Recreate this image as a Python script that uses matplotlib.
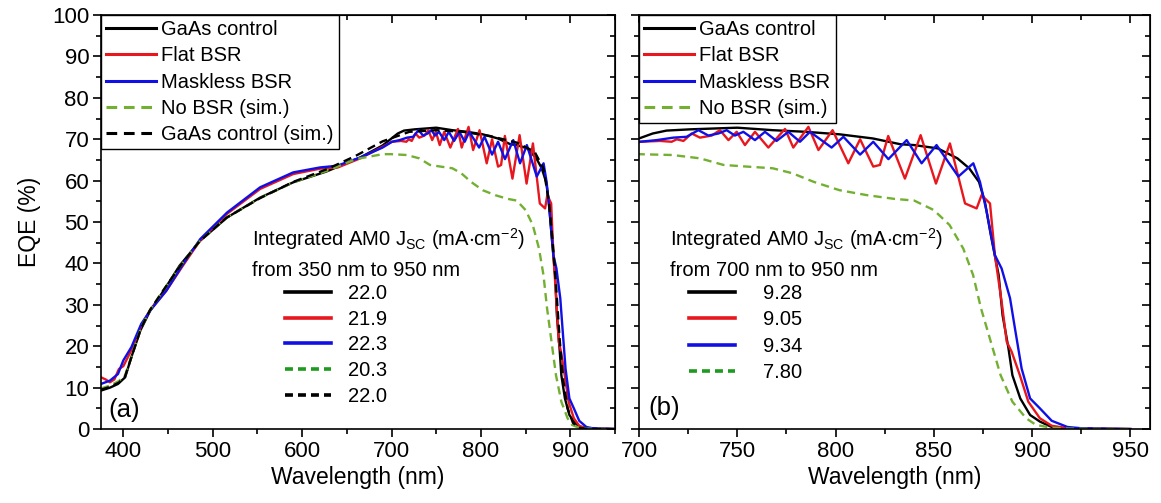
import numpy as np
import matplotlib
matplotlib.use("Agg")
import matplotlib.pyplot as plt
from matplotlib.lines import Line2D
from matplotlib.legend import Legend
from matplotlib.ticker import MultipleLocator

plt.rcParams["font.family"] = ["Liberation Sans", "DejaVu Sans"]
plt.rcParams["mathtext.fontset"] = "custom"
plt.rcParams["mathtext.rm"] = "Liberation Sans"
plt.rcParams["mathtext.default"] = "regular"

# --- EQE spectra (wavelength nm, EQE %) ---
wl_ctrl = [375, 385, 394, 402, 409, 419, 430, 445, 463, 486, 516, 553, 590, 627, 665,
           690, 700, 707, 714, 726, 750, 768, 785, 802, 819, 833, 840, 852, 862, 868,
           873, 876, 879, 883, 885, 888, 890, 894, 899, 904, 910, 920, 950]
eqe_ctrl = [9.3, 10.0, 10.9, 12.5, 17.4, 23.8, 28.6, 33.4, 39.5, 45.5, 51.1, 55.9, 59.6, 62.2, 65.6,
            68.5, 70.2, 71.4, 72.1, 72.4, 72.8, 72.2, 71.8, 71.2, 70.2, 68.8, 68.6, 67.8, 65.4, 63.0,
            59.7, 54.9, 46.9, 37.2, 27.5, 19.5, 13.0, 7.4, 3.4, 1.8, 0.5, 0.1, 0.0]

wl_flat = [375, 380, 385, 390, 395, 400, 410, 420, 430, 448, 467, 486, 516, 553, 590,
           620, 640, 665, 690, 700.5, 710.7, 716.6, 719.2, 722.6, 726.8, 731.0, 737.0, 741.2,
           745.5, 749.7, 753.9, 759.0, 765.8, 774.3, 778.5, 786.2, 791.3, 798.5, 806.5, 812.5,
           819.2, 822.6, 826.8, 835.3, 843.3, 851.1, 858.2, 865.9, 871.8, 874.3, 878.6, 881.1,
           884.5, 887.1, 889.6, 893.8, 898.1, 904.0, 910, 918, 950]
eqe_flat = [12.5, 12.0, 11.3, 12.0, 14.5, 15.2, 19.5, 25.0, 28.8, 33.4, 39.6, 45.6, 52.0, 58.0, 61.6,
            62.9, 63.2, 65.4, 68.2, 69.4, 69.6, 69.4, 70.0, 69.6, 71.4, 70.4, 70.9, 72.2,
            69.8, 71.8, 68.6, 71.8, 68.0, 72.5, 68.0, 73.0, 67.4, 72.2, 64.2, 70.0,
            63.4, 63.8, 70.8, 60.5, 71.0, 59.3, 69.0, 54.5, 53.3, 56.5, 54.5, 42.0,
            30.8, 21.1, 18.7, 13.0, 6.6, 2.6, 0.8, 0.2, 0.0]

wl_mask = [375, 385, 394, 400, 409, 420, 430, 448, 467, 486, 516, 553, 590, 620, 639,
           665, 690, 700.5, 709, 717.5, 724.2, 730.2, 735.3, 740.4, 744.6, 748.8, 753.1, 759.0,
           764.1, 770.0, 776.0, 781.9, 787.0, 798.0, 804.0, 812.5, 819.2, 826.9, 836.2, 843.8,
           851.4, 862.5, 870.1, 873.5, 876.9, 881.1, 884.5, 888.8, 891.3, 894.7, 899.0, 904.0,
           910, 918, 925, 950]
eqe_mask = [10.9, 11.7, 13.3, 16.6, 19.8, 25.4, 28.6, 33.4, 39.9, 45.9, 52.3, 58.4, 62.0, 63.2, 63.6,
            65.6, 68.0, 69.4, 69.8, 70.4, 70.6, 72.2, 70.9, 71.4, 72.2, 70.9, 71.8, 69.8,
            71.8, 69.6, 71.8, 69.4, 71.8, 68.0, 70.6, 66.3, 69.4, 65.2, 69.8, 64.2,
            68.6, 61.0, 64.2, 59.7, 52.5, 42.0, 38.8, 31.6, 24.3, 14.6, 7.4, 5.0,
            2.0, 0.5, 0.2, 0.0]

wl_nobsr = [375, 385, 395, 402, 410, 420, 430, 445, 465, 485, 515, 553, 590, 628, 660,
            690, 700, 717, 731, 743, 755, 768, 778, 789, 802, 816, 830, 840, 850, 858,
            865, 870, 874, 879, 884, 890, 897, 902, 910, 920, 950]
eqe_nobsr = [9.8, 10.5, 11.6, 13.0, 18.2, 24.6, 28.8, 33.6, 39.8, 45.3, 51.0, 55.8, 59.6, 62.4, 65.2,
             66.4, 66.4, 66.2, 65.4, 63.8, 63.4, 63.0, 61.8, 59.7, 57.7, 56.5, 55.6, 55.2, 52.9, 49.3,
             43.6, 37.2, 29.2, 21.1, 13.0, 6.6, 2.6, 1.0, 0.3, 0.1, 0.0]

wl_sim = [375, 385, 395, 402, 410, 420, 430, 445, 465, 485, 515, 553, 590, 628, 660,
          690, 720, 750, 780, 810, 840, 860, 870, 876, 880, 884, 888, 892, 897, 903,
          910, 920, 950]
eqe_sim = [9.5, 10.2, 11.2, 12.8, 18.0, 24.5, 28.8, 33.6, 39.8, 45.3, 51.0, 55.8, 59.7, 62.8, 66.0,
           69.5, 71.8, 72.2, 71.8, 70.8, 69.2, 67.0, 63.0, 55.0, 46.0, 35.0, 22.0, 12.0, 5.0, 1.5,
           0.3, 0.0, 0.0]

# integrated AM0 Jsc (mA/cm2)
jsc_full = ["22.0", "21.9", "22.3", "20.3", "22.0"]      # 350-950 nm
jsc_long = ["9.28", "9.05", "9.34", "7.80"]              # 700-950 nm

RED, BLUE, GREEN, GREEN_DK = "#e8161d", "#1010e6", "#73b032", "#1e9a1e"
FS_TICK, FS_LAB, FS_LEG = 16, 16.5, 14.5

series = [
    (wl_ctrl, eqe_ctrl, dict(color="k", ls="-"), "GaAs control"),
    (wl_flat, eqe_flat, dict(color=RED, ls="-"), "Flat BSR"),
    (wl_mask, eqe_mask, dict(color=BLUE, ls="-"), "Maskless BSR"),
    (wl_nobsr, eqe_nobsr, dict(color=GREEN, ls=(0, (3.5, 2.2))), "No BSR (sim.)"),
    (wl_sim, eqe_sim, dict(color="k", ls=(0, (3.5, 2.2))), "GaAs control (sim.)"),
]
inset_styles = [dict(color="k", ls="-"), dict(color=RED, ls="-"), dict(color=BLUE, ls="-"),
                dict(color=GREEN_DK, ls=(0, (2.2, 1.4))), dict(color="k", ls=(0, (2.2, 1.4)))]

fig = plt.figure(figsize=(11.61, 5.03), dpi=100)
ax_a = fig.add_axes([0.0870, 0.147, 0.4427, 0.823])
ax_b = fig.add_axes([0.5504, 0.147, 0.4401, 0.823])


def style_axes(ax, xlim, xmaj, xmin, ylabels):
    ax.set_xlim(*xlim); ax.set_ylim(0, 100)
    ax.xaxis.set_major_locator(MultipleLocator(xmaj)); ax.xaxis.set_minor_locator(MultipleLocator(xmin))
    ax.yaxis.set_major_locator(MultipleLocator(10)); ax.yaxis.set_minor_locator(MultipleLocator(5))
    for s in ax.spines.values():
        s.set_linewidth(1.2)
    ax.tick_params(which="both", direction="out", top=False, right=False, width=1.2,
                   labelsize=FS_TICK, pad=3)
    ax.tick_params(which="major", length=5.5); ax.tick_params(which="minor", length=3.5)
    ax.tick_params(axis="y", labelleft=ylabels)
    # inward ticks on top/right, no labels
    sec_x = ax.secondary_xaxis("top"); sec_y = ax.secondary_yaxis("right")
    sec_x.xaxis.set_major_locator(MultipleLocator(xmaj)); sec_x.xaxis.set_minor_locator(MultipleLocator(xmin))
    sec_y.yaxis.set_major_locator(MultipleLocator(10)); sec_y.yaxis.set_minor_locator(MultipleLocator(5))
    for sec in (sec_x, sec_y):
        sec.tick_params(which="both", direction="in", width=1.2, labeltop=False, labelright=False)
        sec.tick_params(which="major", length=5.5); sec.tick_params(which="minor", length=3.5)
    ax.set_xlabel("Wavelength (nm)", fontsize=FS_LAB, labelpad=3)


def main_legend(ax):
    leg = ax.legend(loc="upper left", borderaxespad=0, fontsize=FS_LEG, frameon=True, fancybox=False,
                    edgecolor="k", framealpha=1, handlelength=2.5, handletextpad=0.25,
                    labelspacing=0.36, borderpad=0.25)
    leg.get_frame().set_linewidth(1.0)
    for h in leg.get_lines():
        h.set_linewidth(2.2)


# panel (a): full range
for x, y, st, lab in series:
    ax_a.plot(x, y, lw=1.7, label=lab, **st)
style_axes(ax_a, (375, 950), 100, 50, True)
ax_a.set_ylabel("EQE (%)", fontsize=FS_LAB, labelpad=8)
main_legend(ax_a)

# panel (b): long-wavelength zoom
for x, y, st, lab in series[:4]:
    ax_b.plot(x, y, lw=1.7, label=lab, **st)
style_axes(ax_b, (700, 960), 50, 25, False)
main_legend(ax_b)

# integrated Jsc insets
jsc_title = "Integrated AM0 J$_{SC}$ (mA$\\cdot$cm$^{-2}$)"
insets = ((ax_a, jsc_full, "from 350 nm to 950 nm", 0.294, 0.358, 0.85, 0.33),
          (ax_b, jsc_long, "from 700 nm to 950 nm", 0.061, 0.098, 1.35, 0.36))
for ax, jsc, rng, tx, lx, pad, sp in insets:
    ax.text(tx, 0.459, jsc_title, transform=ax.transAxes, fontsize=FS_LEG, va="center", ha="left")
    ax.text(tx, 0.384, rng, transform=ax.transAxes, fontsize=FS_LEG, va="center", ha="left")
    handles = [Line2D([], [], lw=2.6, **inset_styles[i]) for i in range(len(jsc))]
    lg = Legend(ax, handles, jsc, loc="upper left", bbox_to_anchor=(lx, 0.35),
                frameon=False, fontsize=FS_LEG, handlelength=2.3, handletextpad=pad,
                labelspacing=sp, borderpad=0, borderaxespad=0)
    ax.add_artist(lg)

ax_a.text(0.014, 0.045, "(a)", transform=ax_a.transAxes, fontsize=18.5, va="center", ha="left")
ax_b.text(0.018, 0.05, "(b)", transform=ax_b.transAxes, fontsize=18.5, va="center", ha="left")

fig.savefig("out.png", dpi=100)
